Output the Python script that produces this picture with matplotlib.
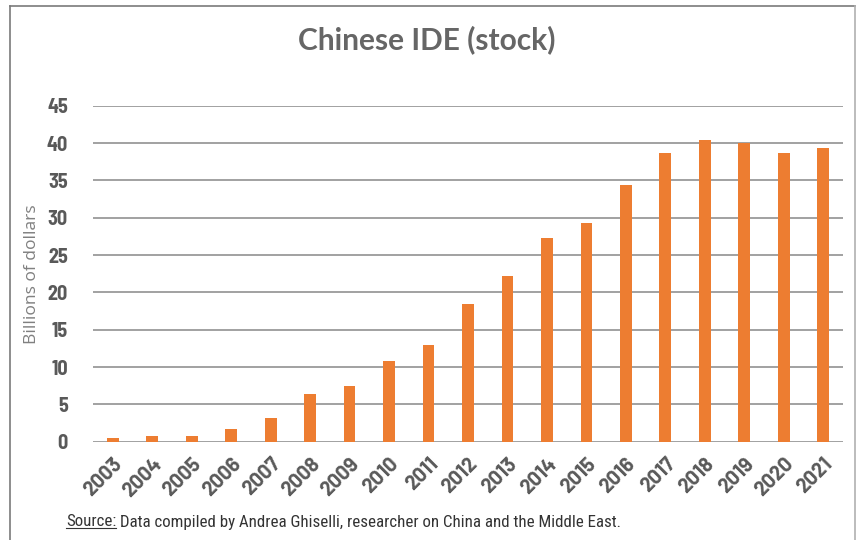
import matplotlib
matplotlib.use("Agg")
import matplotlib.pyplot as plt
from matplotlib.lines import Line2D

years = [str(y) for y in range(2003, 2022)]
values = [0.5, 0.7, 0.8, 1.7, 3.2, 6.4, 7.5, 10.8, 13.0, 18.4, 22.2, 27.3, 29.3, 34.4, 38.7, 40.4, 40.0, 38.7, 39.3]
yticks = [0, 5, 10, 15, 20, 25, 30, 35, 40, 45]

ytickfont = 'Barlow Semi Condensed'
xtickfont = 'Barlow'
srcfont = 'Roboto Condensed'

fig = plt.figure(figsize=(8.56, 5.4), dpi=100)
ax = fig.add_axes([93/856, (540-441.7)/540, (843-93)/856, (441.7-105.7)/540])

x = list(range(len(years)))
ax.bar(x, values, width=0.3, color='#ED7D31', zorder=3)
ax.set_xlim(-0.5, len(years)-0.5)
ax.set_ylim(0, 45)
ax.set_yticks(yticks)
ax.set_yticklabels([str(t) for t in yticks], fontsize=14.5, fontweight='bold',
                   color='#595959', family=ytickfont)
ax.set_xticks(x)
ax.set_xticklabels(years, rotation=45, ha='right', rotation_mode='anchor',
                   fontsize=14.5, fontweight='bold', color='#595959', family=xtickfont)
ax.tick_params(axis='both', length=0)
ax.tick_params(axis='y', pad=18)
ax.tick_params(axis='x', pad=9)
for s in ax.spines.values():
    s.set_visible(False)
ax.yaxis.grid(True, color='#9a9a9a', linewidth=1.3, zorder=0)
ax.set_axisbelow(True)

ax.set_ylabel('Billions of dollars', fontsize=12.6, color='#808080', labelpad=5,
              family='Open Sans', fontweight='normal')

fig.text(427/856, 1-40/540, 'Chinese IDE (stock)', ha='center', va='center',
         fontsize=21.5, fontweight='bold', color='#666666', family='Lato')

src1 = fig.text(66/856, 1-522/540, 'Source:', ha='left', va='center',
                fontsize=12.2, color='#333333', family=srcfont)
fig.canvas.draw()
r = fig.canvas.get_renderer()
bb = src1.get_window_extent(r)
fig.text((bb.x1 + 4)/856, 1-522/540, 'Data compiled by Andrea Ghiselli, researcher on China and the Middle East.',
         ha='left', va='center', fontsize=12.2, color='#333333', family=srcfont)
fig.add_artist(Line2D([bb.x0/856, bb.x1/856], [(bb.y0 + 1.5)/540, (bb.y0 + 1.5)/540],
                      color='#333333', linewidth=0.8))

# frame
fc = '#7a7a7a'
fig.add_artist(Line2D([9.5/856, 9.5/856], [0, 1-5.5/540], color=fc, linewidth=1.2))
fig.add_artist(Line2D([9.5/856, 854.5/856], [1-5.5/540, 1-5.5/540], color=fc, linewidth=1.2))
fig.add_artist(Line2D([854.5/856, 854.5/856], [0, 1-5.5/540], color='#b0b0b0', linewidth=1.2))

fig.savefig('out.png', dpi=100)
